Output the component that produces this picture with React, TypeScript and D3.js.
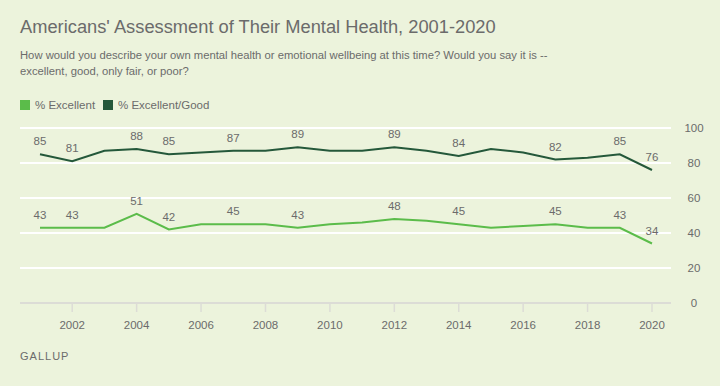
import React from 'react';
import * as d3 from 'd3';

const years = [2001, 2002, 2003, 2004, 2005, 2006, 2007, 2008, 2009, 2010, 2011, 2012, 2013, 2014, 2015, 2016, 2017, 2018, 2019, 2020];
const excellent = [43, 43, 43, 51, 42, 45, 45, 45, 43, 45, 46, 48, 47, 45, 43, 44, 45, 43, 43, 34];
const excellentGood = [85, 81, 87, 88, 85, 86, 87, 87, 89, 87, 87, 89, 87, 84, 88, 86, 82, 83, 85, 76];
const labelYears = [2001, 2002, 2004, 2005, 2007, 2009, 2012, 2014, 2017, 2019, 2020];
const xTicks = [2002, 2004, 2006, 2008, 2010, 2012, 2014, 2016, 2018, 2020];
const yTicks = [0, 20, 40, 60, 80, 100];

const series = [
  { name: '% Excellent', values: excellent, color: '#5bbc4a' },
  { name: '% Excellent/Good', values: excellentGood, color: '#24583a' },
];

const W = 720;
const H = 386;
const font = '"Liberation Sans", Arial, sans-serif';

const App: React.FC = () => {
  const x = d3.scaleLinear().domain([2001, 2020]).range([40, 652]);
  const y = d3.scaleLinear().domain([0, 100]).range([303, 128]);

  const line = d3.line<number>()
    .x((_, i) => x(years[i]))
    .y(d => y(d));

  return (
    <svg width={W} height={H} style={{ position: 'absolute', left: 0, top: 0, background: '#ecf3dc' }}>
      <rect width={W} height={H} fill="#ecf3dc" />
      <text x={20} y={33} fontFamily={font} fontSize={18.3} fill="#6b6b6b">
        Americans' Assessment of Their Mental Health, 2001-2020
      </text>
      <text x={20} y={59} fontFamily={font} fontSize={11.25} fill="#6b6b6b">
        How would you describe your own mental health or emotional wellbeing at this time? Would you say it is --
      </text>
      <text x={20} y={75} fontFamily={font} fontSize={11.25} fill="#6b6b6b">
        excellent, good, only fair, or poor?
      </text>

      {/* legend */}
      {series.map((s, i) => {
        const lx = i === 0 ? 20 : 103;
        return (
          <g key={s.name}>
            <rect x={lx} y={100} width={10} height={10} fill={s.color} />
            <text x={lx + 15} y={109} fontFamily={font} fontSize={11.5} fill="#6b6b6b">{s.name}</text>
          </g>
        );
      })}

      {/* gridlines */}
      {yTicks.filter(t => t > 0).map(t => (
        <line key={t} x1={20} x2={671} y1={y(t)} y2={y(t)} stroke="#ffffff" strokeWidth={2} />
      ))}
      <line x1={20} x2={671} y1={y(0)} y2={y(0)} stroke="#dcdcd6" strokeWidth={2} />
      {xTicks.map(t => (
        <g key={t}>
          <line x1={x(t)} x2={x(t)} y1={y(0)} y2={y(0) + 9} stroke="#dcdcd6" strokeWidth={1.5} />
          <text x={x(t)} y={329} textAnchor="middle" fontFamily={font} fontSize={11.5} fill="#6b6b6b">{t}</text>
        </g>
      ))}
      {yTicks.map(t => (
        <text key={t} x={694} y={y(t) + 4} textAnchor="middle" fontFamily={font} fontSize={11.5} fill="#6b6b6b">{t}</text>
      ))}

      {/* lines */}
      {series.map(s => (
        <path key={s.name} d={line(s.values) ?? ''} fill="none" stroke={s.color} strokeWidth={2} />
      ))}

      {/* point labels */}
      {series.map(s => labelYears.map(yr => {
        const i = years.indexOf(yr);
        return (
          <text key={s.name + yr} x={x(yr)} y={y(s.values[i]) - 9} textAnchor="middle" fontFamily={font} fontSize={11.5} fill="#6b6b6b">
            {s.values[i]}
          </text>
        );
      }))}

      <text x={20} y={360} fontFamily={font} fontSize={11} fill="#6b6b6b" letterSpacing={1}>GALLUP</text>
    </svg>
  );
};

export default App;
